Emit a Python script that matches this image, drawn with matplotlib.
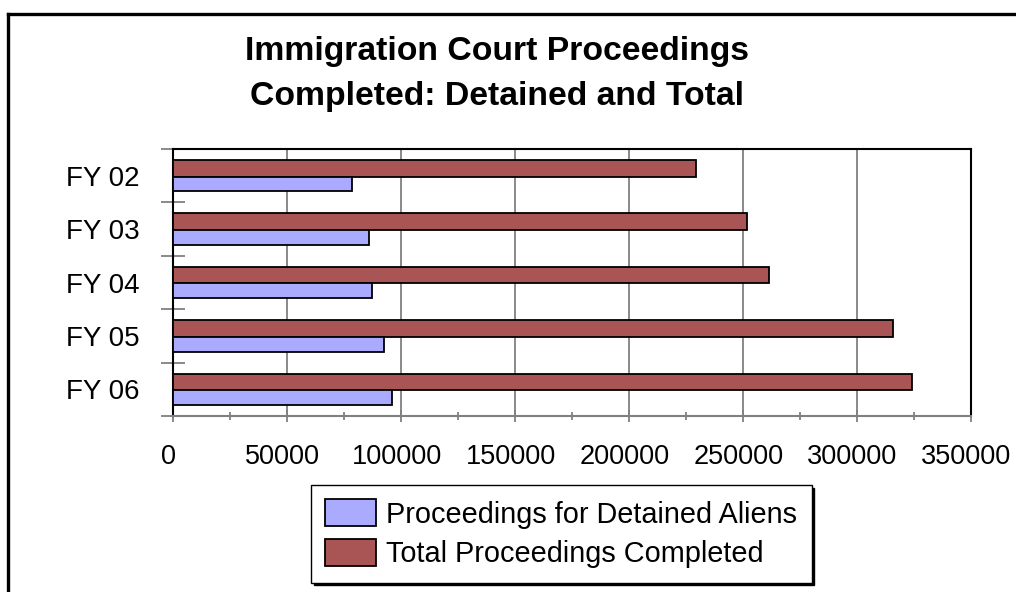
import numpy as np
import matplotlib
matplotlib.use("Agg")
import matplotlib.pyplot as plt
from matplotlib.lines import Line2D
from matplotlib.ticker import MultipleLocator
from matplotlib.transforms import ScaledTranslation

# ==== DATA ====
years = ["FY 02", "FY 03", "FY 04", "FY 05", "FY 06"]
detained = [78700, 86000, 87400, 92400, 95900]
total = [229400, 251800, 261300, 315600, 324300]

RED = "#AA5555"
BLUE = "#AAAAFF"
GRAY = "#808080"

plt.rcParams['font.family'] = ['Liberation Sans', 'DejaVu Sans']

fig = plt.figure(figsize=(10.16, 5.92), dpi=100)
ax = fig.add_axes([173/1016, 1 - 416/592, (971-173)/1016, (416-149)/592])

y = np.arange(len(years))
h_tot, h_det = 0.31, 0.28
ax.barh(y - 0.295 + h_tot/2, total, height=h_tot, color=RED,
        edgecolor="black", linewidth=1.3, label="Total Proceedings Completed", zorder=3)
ax.barh(y + 0.015 + h_det/2, detained, height=h_det, color=BLUE,
        edgecolor="black", linewidth=1.3, label="Proceedings for Detained Aliens", zorder=3)

ax.set_ylim(len(years) - 0.5, -0.5)
ax.set_xlim(0, 350000)

# y axis: labels at category centers, tick marks between categories
ax.set_yticks(y)
ax.set_yticklabels(years)
ax.set_yticks(np.arange(-0.5, len(years)), minor=True)
ax.tick_params(axis="y", which="major", length=0, pad=24, labelsize=20)
ax.tick_params(axis="y", which="minor", length=17, width=1.3, color=GRAY, direction="inout")

# x axis
ax.xaxis.set_major_locator(MultipleLocator(50000))
ax.xaxis.set_minor_locator(MultipleLocator(25000))
ax.tick_params(axis="x", which="major", length=8, width=1.3, color=GRAY,
               direction="inout", pad=16, labelsize=19.5)
ax.tick_params(axis="x", which="minor", length=5.5, width=1.3, color=GRAY, direction="inout")
ax.grid(axis="x", which="major", color=GRAY, linewidth=1.3, zorder=0)
shift = ScaledTranslation(-4.5/100, 0, fig.dpi_scale_trans)
for lbl in ax.get_xticklabels():
    lbl.set_transform(lbl.get_transform() + shift)

for side in ["left", "top", "right"]:
    ax.spines[side].set_color("black")
    ax.spines[side].set_linewidth(1.5)
ax.spines["bottom"].set_color(GRAY)
ax.spines["bottom"].set_linewidth(1.5)

fig.text(497/1016, 1 - 74/592, "Immigration Court Proceedings\nCompleted: Detained and Total",
         ha="center", va="center", fontsize=24.3, fontweight="bold", linespacing=1.62)

handles, labels = ax.get_legend_handles_labels()
leg = fig.legend(handles[::-1], labels[::-1], loc="upper left",
                 bbox_to_anchor=(311/1016, 1 - 485/592), fontsize=20.8,
                 frameon=True, fancybox=False, shadow={"color": "black", "alpha": 1},
                 handlelength=1.75, handleheight=1.05, handletextpad=0.35,
                 labelspacing=0.35, borderpad=0.5, borderaxespad=0)
leg.get_frame().set_edgecolor("black")
leg.get_frame().set_linewidth(1.0)

# outer frame (only left and top edges visible)
fx, fy = 8/1016, 1 - 14/592
fig.add_artist(Line2D([fx, fx], [0, fy], transform=fig.transFigure, color="black", lw=2.4))
fig.add_artist(Line2D([fx, 1], [fy, fy], transform=fig.transFigure, color="black", lw=2.4))

fig.savefig("out.png", dpi=100)
